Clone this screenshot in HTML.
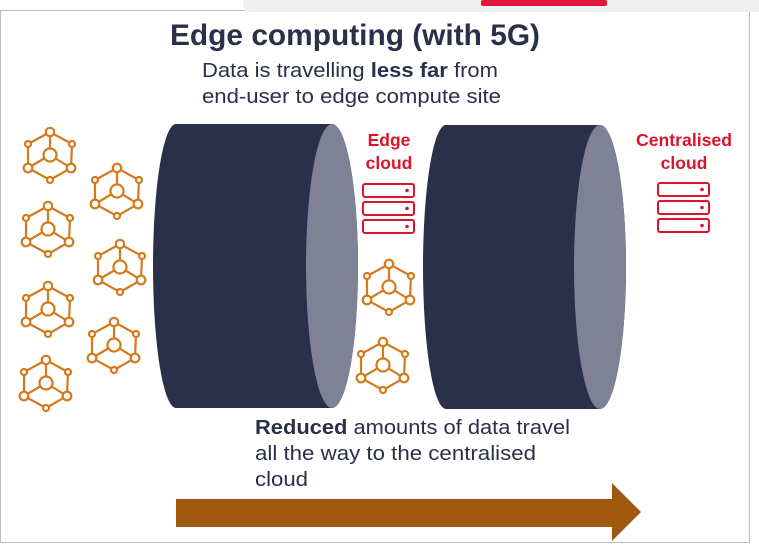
<!DOCTYPE html>
<html><head><meta charset="utf-8"><style>
body{margin:0;width:759px;height:557px;background:#fff;overflow:hidden;font-family:"Liberation Sans",sans-serif}
</style></head><body>
<svg width="759" height="557" xmlns="http://www.w3.org/2000/svg" style="position:absolute;left:0;top:0">
<defs>
<g id="ic" fill="#fff" stroke="#d4791c" stroke-width="2.2">
<path d="M0,-23 L-22,-11 L-22,13 L0,25 L21,13 L22,-11 Z M0,-23 L0,0 M0,0 L-22,13 M0,0 L21,13" fill="none"/>
<circle cx="0" cy="-23" r="4.2"/><circle cx="-22" cy="-11" r="3"/><circle cx="22" cy="-11" r="3"/>
<circle cx="0" cy="0" r="6.5"/><circle cx="-22" cy="13" r="4.3"/><circle cx="21" cy="13" r="4.3"/><circle cx="0" cy="25" r="3"/>
</g>
<g id="sv" fill="#fff" stroke="#d9142b" stroke-width="2">
<rect x="0" y="0" width="51" height="13" rx="2"/><rect x="0" y="18" width="51" height="13" rx="2"/><rect x="0" y="36" width="51" height="13" rx="2"/>
<circle cx="44" cy="6.5" r="1.8" fill="#d9142b" stroke="none"/><circle cx="44" cy="24.5" r="1.8" fill="#d9142b" stroke="none"/><circle cx="44" cy="42.5" r="1.8" fill="#d9142b" stroke="none"/>
</g>
</defs>
<path d="M0.5,12 L0.5,10.5 L245,10.5" stroke="#bbb" fill="none"/>
<path d="M749.5,12 L749.5,542.5 L0.5,542.5 L0.5,10" stroke="#bbb" fill="none"/>
<path d="M243,0 L759,0 L759,12 L253,12 Q243,12 243,4 Z" fill="#efefef"/>
<rect x="481" y="0" width="126" height="6" rx="2" fill="#e0143c"/>
<text x="170" y="45" font-size="30" font-weight="bold" fill="#2a3049" textLength="370" lengthAdjust="spacingAndGlyphs">Edge computing (with 5G)</text>
<text x="202" y="77" font-size="20" fill="#2a3049" textLength="296" lengthAdjust="spacingAndGlyphs">Data is travelling <tspan font-weight="bold">less far</tspan> from</text>
<text x="202" y="103" font-size="20" fill="#2a3049" textLength="299" lengthAdjust="spacingAndGlyphs">end-user to edge compute site</text>
<text x="255" y="434" font-size="20" fill="#2a3049" textLength="315" lengthAdjust="spacingAndGlyphs"><tspan font-weight="bold">Reduced</tspan> amounts of data travel</text>
<text x="255" y="460" font-size="20" fill="#2a3049" textLength="281" lengthAdjust="spacingAndGlyphs">all the way to the centralised</text>
<text x="255" y="486" font-size="20" fill="#2a3049" textLength="53" lengthAdjust="spacingAndGlyphs">cloud</text>
<text x="389" y="146" font-size="17.5" font-weight="bold" fill="#d9142b" text-anchor="middle">Edge</text>
<text x="389" y="169" font-size="17.5" font-weight="bold" fill="#d9142b" text-anchor="middle">cloud</text>
<text x="684" y="146" font-size="17.5" font-weight="bold" fill="#d9142b" text-anchor="middle" textLength="96" lengthAdjust="spacingAndGlyphs">Centralised</text>
<text x="684" y="169" font-size="17.5" font-weight="bold" fill="#d9142b" text-anchor="middle">cloud</text>
<path d="M176,124 L332,124 A26,142 0 0 1 332,408 L176,408 A23,142 0 0 1 176,124 Z" fill="#29304a"/>
<ellipse cx="332" cy="266" rx="26" ry="142" fill="#7f8295"/>
<path d="M446,125 L600,125 A26,142 0 0 1 600,409 L446,409 A23,142 0 0 1 446,125 Z" fill="#29304a"/>
<ellipse cx="600" cy="267" rx="26" ry="142" fill="#7f8295"/>
<use href="#sv" x="363" y="184"/>
<use href="#sv" x="658" y="183"/>
<use href="#ic" x="50" y="155"/><use href="#ic" x="48" y="229"/><use href="#ic" x="48" y="309"/><use href="#ic" x="46" y="383"/>
<use href="#ic" x="117" y="191"/><use href="#ic" x="120" y="267"/><use href="#ic" x="114" y="345"/>
<use href="#ic" x="389" y="287"/><use href="#ic" x="383" y="365"/>
<path d="M176,499 L612,499 L612,483 L641,512 L612,541 L612,527 L176,527 Z" fill="#a0580f"/>
</svg>
</body></html>
